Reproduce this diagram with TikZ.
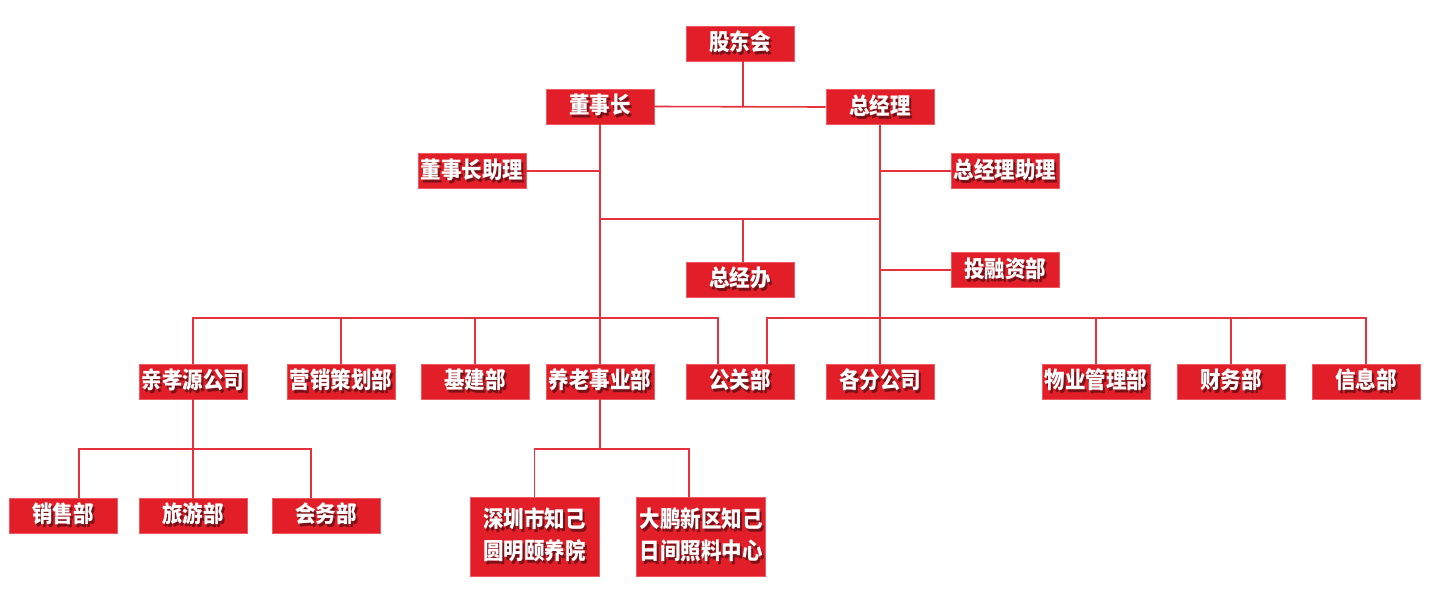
\documentclass[tikz,border=0pt]{standalone}
\usepackage{fontspec}
\newfontfamily\cjk{Noto Sans CJK SC}
\usetikzlibrary{positioning}
\definecolor{boxred}{RGB}{226,30,40}
\definecolor{edgered}{RGB}{238,90,96}
\definecolor{linkred}{RGB}{230,50,60}
\definecolor{shadered}{RGB}{95,14,20}
\newcommand\shtxt[1]{\scalebox{1}[1.12]{\makebox[0pt][l]{\hspace{2pt}\raisebox{-2.5pt}{\textcolor{shadered!80!boxred}{#1}}}#1}}
\tikzset{
  box/.style={fill=boxred,draw=edgered,line width=0.8pt,minimum width=108pt,minimum height=35pt,
    inner sep=0pt,text=white,font=\cjk\bfseries\fontsize{20.5}{32}\selectfont,align=center},
  widebox/.style={box,minimum width=129pt,minimum height=79pt},
  link/.style={draw=linkred,line width=1.6pt}
}

\begin{document}
\begin{tikzpicture}[x=1pt,y=-1pt]
  \useasboundingbox (0,0) rectangle (1432,600);
  % top levels
  \node[box] (gdh) at (740,43.5) {\shtxt{股东会}};
  \node[box] (dsz) at (600,106.5) {\shtxt{董事长}};
  \node[box] (zjl) at (880,107) {\shtxt{总经理}};
  \node[box] (dszzl) at (472,171) {\shtxt{董事长助理}};
  \node[box] (zjlzl) at (1005,171) {\shtxt{总经理助理}};
  \node[box] (zjb) at (740,279.5) {\shtxt{总经办}};
  \node[box] (trz) at (1005,270) {\shtxt{投融资部}};
  % departments
  \node[box] (qxy) at (193,381.5) {\shtxt{亲孝源公司}};
  \node[box] (yxch) at (341,381.5) {\shtxt{营销策划部}};
  \node[box] (jjb) at (475,381.5) {\shtxt{基建部}};
  \node[box] (ylsy) at (600,381.5) {\shtxt{养老事业部}};
  \node[box] (ggb) at (740,381.5) {\shtxt{公关部}};
  \node[box] (gfgs) at (880,381.5) {\shtxt{各分公司}};
  \node[box] (wygl) at (1096,381.5) {\shtxt{物业管理部}};
  \node[box] (cwb) at (1231,381.5) {\shtxt{财务部}};
  \node[box] (xxb) at (1366,381.5) {\shtxt{信息部}};
  % lowest level
  \node[box] (xsb) at (63,515.5) {\shtxt{销售部}};
  \node[box] (lyb) at (193,515.5) {\shtxt{旅游部}};
  \node[box] (hwb) at (326,515.5) {\shtxt{会务部}};
  \node[widebox] (szyl) at (534.5,536.5) {\shtxt{深圳市知己}\\\shtxt{圆明颐养院}};
  \node[widebox] (dpzl) at (701,536.5) {\shtxt{大鹏新区知己}\\\shtxt{日间照料中心}};

  \coordinate (midbus) at (740,219);
  \coordinate (topbus) at (0,318);
  \coordinate (lowbus) at (0,449);

  \draw[link] ([xshift=3pt]gdh.south) -- ([xshift=3pt]gdh.south |- dsz.east);
  \draw[link] (dsz.east) -- (zjl.west);
  \draw[link] (dsz.south) -- (ylsy.north);
  \draw[link] (zjl.south) -- (gfgs.north);
  \draw[link] (dszzl.east) -- (dszzl.east -| dsz.south);
  \draw[link] (zjlzl.west) -- (zjlzl.west -| zjl.south);
  \draw[link] (trz.west) -- (trz.west -| zjl.south);
  \draw[link] (midbus -| dsz.south) -- (midbus -| zjl.south);
  \draw[link] ([xshift=3pt]zjb.north) -- ([xshift=3pt]midbus);
  \draw[link] (qxy.north) |- ([xshift=-22pt]ggb.north |- topbus) -- ([xshift=-22pt]ggb.north);
  \foreach \n in {yxch,jjb} \draw[link] (\n.north) -- (\n.north |- topbus);
  \draw[link] ([xshift=27pt]ggb.north) |- (xxb.north |- topbus) -- (xxb.north);
  \foreach \n in {wygl,cwb} \draw[link] (\n.north) -- (\n.north |- topbus);
  \draw[link] (qxy.south) -- (lyb.north);
  \draw[link] ([xshift=16pt]xsb.north) |- ([xshift=-15pt]hwb.north |- lowbus) -- ([xshift=-15pt]hwb.north);
  \draw[link] (ylsy.south) -- (ylsy.south |- lowbus);
  \draw[link] (szyl.north) |- ([xshift=-12pt]dpzl.north |- lowbus) -- ([xshift=-12pt]dpzl.north);
\end{tikzpicture}
\end{document}
